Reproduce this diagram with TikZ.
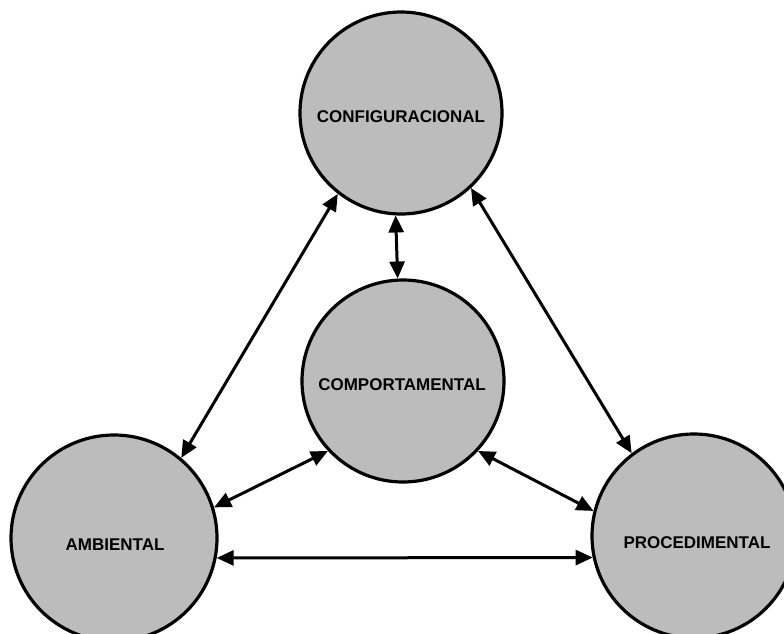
\documentclass[tikz,border=0pt]{standalone}
\usepackage{fontspec}
\setmainfont{Liberation Sans}
\usetikzlibrary{arrows.meta}
\begin{document}
\begin{tikzpicture}[x=1pt,y=1pt,
  blob/.style={circle, draw=black, line width=3.2pt, fill={rgb,255:red,188;green,188;blue,188}, inner sep=0pt},
  lbl/.style={font=\fontsize{17}{17}\selectfont\bfseries, text=black},
  link/.style={line width=3pt, {Triangle[length=17pt,width=15pt]}-{Triangle[length=17pt,width=15pt]}}]
\useasboundingbox (0,0) rectangle (784,-634);
\node[blob, minimum size=202pt] (T) at (401,-113) {};
\node[blob, minimum size=202pt] (C) at (403,-381) {};
\node[blob, minimum size=206pt] (L) at (114,-538) {};
\node[blob, minimum size=204pt] (R) at (694,-536) {};
\node[lbl] (tT) at (401,-117) {CONFIGURACIONAL};
\node[lbl] (tC) at (402,-385) {COMPORTAMENTAL};
\node[lbl] (tL) at (115,-545) {AMBIENTAL};
\node[lbl] (tR) at (697,-543) {PROCEDIMENTAL};
\draw[link] (T.267) -- (C.93);
\draw[link] (T.232) -- (L.50);
\draw[link] (T.313) -- (R.127);
\draw[link] (C.223) -- (L.17);
\draw[link] (C.317) -- (R.166);
\draw[link] (L.-11) -- (R.192);
\end{tikzpicture}
\end{document}
